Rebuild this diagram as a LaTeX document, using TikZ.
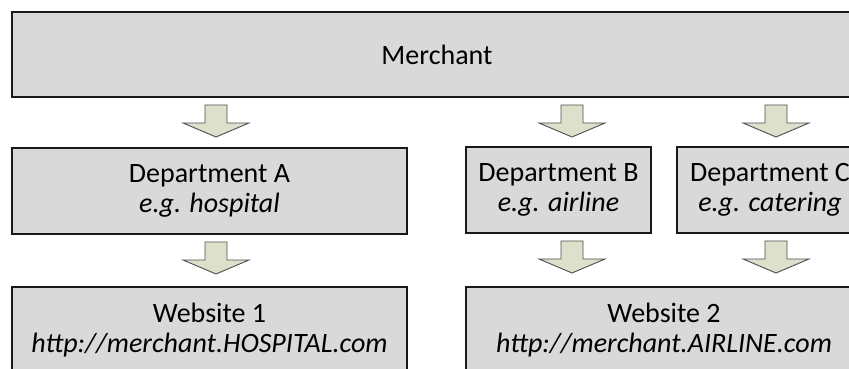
\documentclass[tikz,border=0pt]{standalone}
\usepackage{fontspec}
\setmainfont{Carlito}
\usetikzlibrary{calc}
\definecolor{boxfill}{HTML}{D9D9D9}
\definecolor{arrowfill}{HTML}{DDE1CB}
\definecolor{arrowline}{HTML}{4D4D4D}

% Block arrow hanging below a node, in the column of a given coordinate
\newcommand\downarrowfrom[2]{%
  \draw[blockarrow] ($(#1.south -| #2)+(0,8)$) ++(-11,0) -- ++(22,0) -- ++(0,18)
    -- ++(22,0) -- ++(-33,14) -- ++(-33,-14) -- ++(22,0) -- cycle;}

\begin{document}
\begin{tikzpicture}[x=1pt,y=-1pt,
  box/.style={draw=black!90, line width=1.6pt, fill=boxfill, inner sep=0pt,
    outer sep=0pt, align=center, anchor=north west,
    font=\fontsize{28}{30}\selectfont},
  blockarrow/.style={draw=arrowline, line width=0.9pt, fill=arrowfill,
    line join=miter}]
\useasboundingbox (0,0) rectangle (849,369);
\clip (0,0) rectangle (849,369);

% organisation levels
\node[box, minimum width=850pt, minimum height=85pt] (merchant) at (12,12)
  {Merchant};
\node[box, minimum width=395pt, minimum height=86pt] (deptA) at (12,148)
  {Department A\\\textit{e.g. hospital}};
\node[box, minimum width=185pt, minimum height=86pt] (deptB) at (466,147)
  {Department B\\\textit{e.g. airline}};
\node[box, minimum width=186pt, minimum height=86pt] (deptC) at (677,147)
  {Department C\\\textit{e.g. catering}};
\node[box, minimum width=395pt, minimum height=86pt] (web1) at (12,287)
  {Website 1\\\textit{http://merchant.HOSPITAL.com}};
\node[box, minimum width=396pt, minimum height=86pt] (web2) at (466,287)
  {Website 2\\\textit{http://merchant.AIRLINE.com}};

% arrow columns
\coordinate (colA) at (216,0);
\coordinate (colB) at (572,0);
\coordinate (colC) at (776,0);

\downarrowfrom{merchant}{colA}
\downarrowfrom{merchant}{colB}
\downarrowfrom{merchant}{colC}
\downarrowfrom{deptA}{colA}
\downarrowfrom{deptB}{colB}
\downarrowfrom{deptC}{colC}
\end{tikzpicture}
\end{document}
